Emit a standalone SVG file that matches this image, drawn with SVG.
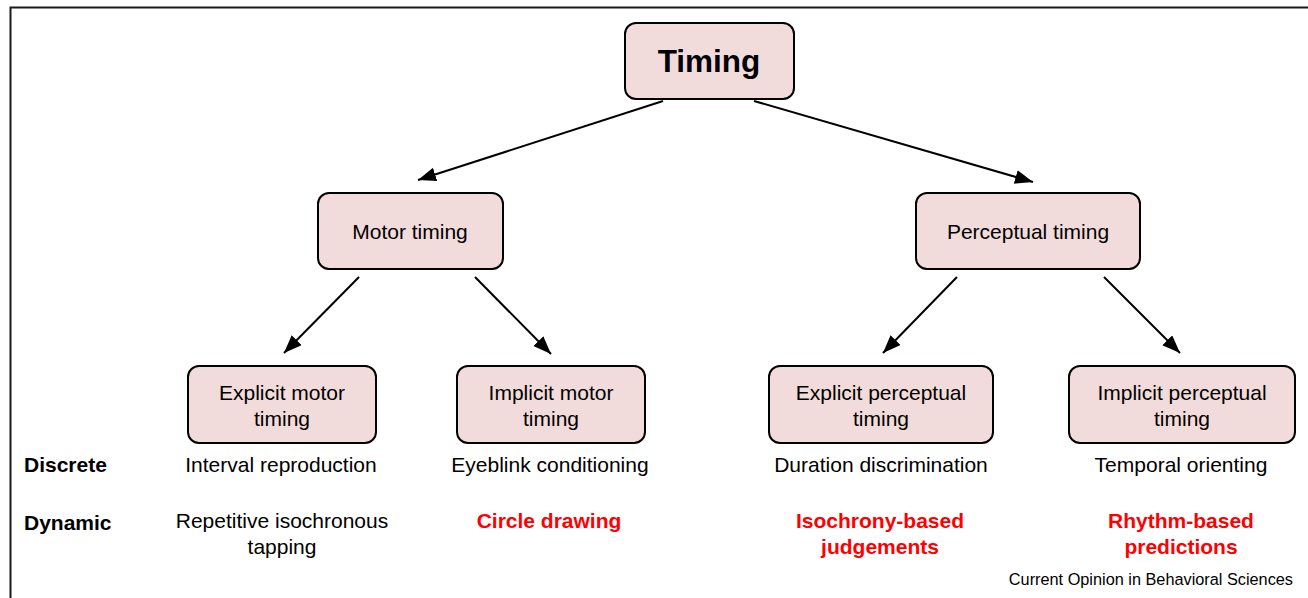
<svg xmlns="http://www.w3.org/2000/svg" width="1308" height="598" viewBox="0 0 1308 598">
<style>
  .box { fill: #f2dcdb; stroke: #000; stroke-width: 2; }
  .t { font-family: "Liberation Sans", Arial, sans-serif; font-size: 21px; fill: #000; text-anchor: middle; }
  .title { font-family: "Liberation Sans", Arial, sans-serif; font-size: 31.5px; font-weight: bold; fill: #000; text-anchor: middle; }
  .row { font-family: "Liberation Sans", Arial, sans-serif; font-size: 21px; font-weight: bold; fill: #000; }
  .red { font-family: "Liberation Sans", Arial, sans-serif; font-size: 21px; font-weight: bold; fill: #ff0000; text-anchor: middle; }
  .credit { font-family: "Liberation Sans", Arial, sans-serif; font-size: 16.3px; fill: #000; text-anchor: end; }
  .conn line { stroke: #000; stroke-width: 2; marker-end: url(#arr); }
</style>
<defs>
  <marker id="arr" markerUnits="userSpaceOnUse" markerWidth="20" markerHeight="16" refX="18" refY="7" orient="auto">
    <path d="M0,0 L18,7 L0,14 Z" fill="#000"/>
  </marker>
</defs>
<rect x="0" y="0" width="1308" height="598" fill="#fff"/>
<path d="M10.5,598 L10.5,7.5 L1308,7.5" fill="none" stroke="#1a1a1a" stroke-width="2"/>

<g id="connectors" class="conn">
  <line x1="663" y1="101" x2="418" y2="180"/>
  <line x1="754" y1="101" x2="1033" y2="182"/>
  <line x1="359" y1="277" x2="284" y2="353"/>
  <line x1="475" y1="277" x2="551" y2="354"/>
  <line x1="957" y1="277" x2="883" y2="353"/>
  <line x1="1104" y1="277" x2="1180" y2="353"/>
</g>

<g id="timing">
  <rect class="box" x="625" y="23" width="169" height="76" rx="11"/>
  <text class="title" x="709" y="72">Timing</text>
</g>
<g id="motor">
  <rect class="box" x="318" y="193" width="185" height="76" rx="11"/>
  <text class="t" x="410" y="239">Motor timing</text>
</g>
<g id="perceptual">
  <rect class="box" x="916" y="193" width="224" height="76" rx="11"/>
  <text class="t" x="1028" y="239">Perceptual timing</text>
</g>
<g id="explicit-motor">
  <rect class="box" x="188" y="366" width="188" height="77" rx="11"/>
  <text class="t" x="282" y="400">Explicit motor</text>
  <text class="t" x="282" y="426">timing</text>
</g>
<g id="implicit-motor">
  <rect class="box" x="457" y="366" width="188" height="77" rx="11"/>
  <text class="t" x="551" y="400">Implicit motor</text>
  <text class="t" x="551" y="426">timing</text>
</g>
<g id="explicit-perceptual">
  <rect class="box" x="769" y="366" width="224" height="77" rx="11"/>
  <text class="t" x="881" y="400">Explicit perceptual</text>
  <text class="t" x="881" y="426">timing</text>
</g>
<g id="implicit-perceptual">
  <rect class="box" x="1069" y="366" width="226" height="77" rx="11"/>
  <text class="t" x="1182" y="400">Implicit perceptual</text>
  <text class="t" x="1182" y="426">timing</text>
</g>

<g id="labels">
  <text class="row" x="24" y="472">Discrete</text>
  <text class="row" x="24" y="530">Dynamic</text>
  <text class="t" x="281" y="472">Interval reproduction</text>
  <text class="t" x="550" y="472">Eyeblink conditioning</text>
  <text class="t" x="881" y="472">Duration discrimination</text>
  <text class="t" x="1181" y="472">Temporal orienting</text>
  <text class="t" x="282" y="528">Repetitive isochronous</text>
  <text class="t" x="282" y="554">tapping</text>
  <text class="red" x="549" y="528">Circle drawing</text>
  <text class="red" x="880" y="528">Isochrony-based</text>
  <text class="red" x="880" y="554">judgements</text>
  <text class="red" x="1181" y="528">Rhythm-based</text>
  <text class="red" x="1181" y="554">predictions</text>
  <text class="credit" x="1293" y="585">Current Opinion in Behavioral Sciences</text>
</g>
</svg>
